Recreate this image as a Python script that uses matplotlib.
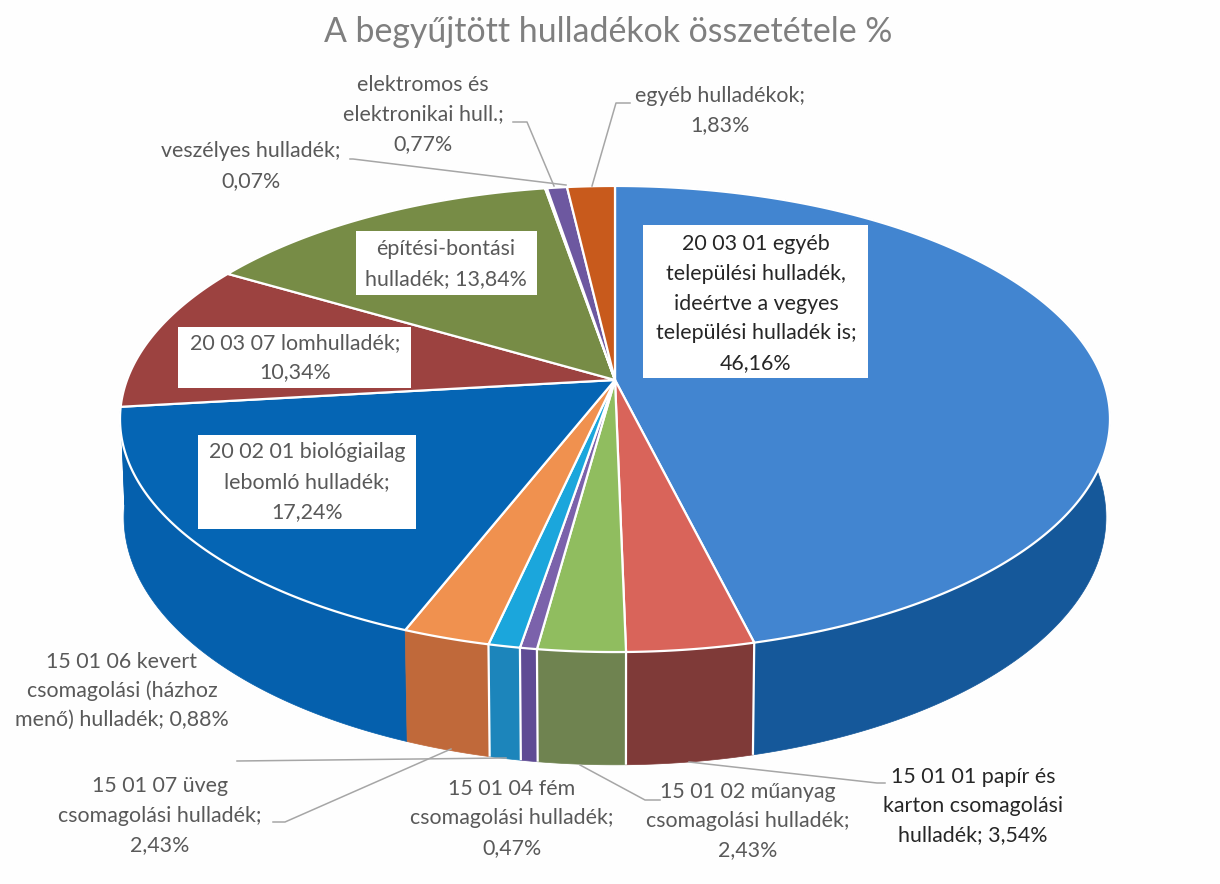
import numpy as np
import matplotlib
matplotlib.use("Agg")
import matplotlib.pyplot as plt

plt.rcParams['font.family'] = ['Lato', 'DejaVu Sans']

TITLE = "A begyűjtött hulladékok összetétele %"
values = [46.16, 3.54, 2.43, 0.47, 0.88, 2.43, 17.24, 10.34, 13.84, 0.07, 0.77, 1.83]
labels = [
    "20 03 01 egyéb\ntelepülési hulladék,\nideértve a vegyes\ntelepülési hulladék is;\n46,16%",
    "15 01 01 papír és\nkarton csomagolási\nhulladék; 3,54%",
    "15 01 02 műanyag\ncsomagolási hulladék;\n2,43%",
    "15 01 04 fém\ncsomagolási hulladék;\n0,47%",
    "15 01 06 kevert\ncsomagolási (házhoz\nmenő) hulladék; 0,88%",
    "15 01 07 üveg\ncsomagolási hulladék;\n2,43%",
    "20 02 01 biológiailag\nlebomló hulladék;\n17,24%",
    "20 03 07 lomhulladék;\n10,34%",
    "építési-bontási\nhulladék; 13,84%",
    "veszélyes hulladék;\n0,07%",
    "elektromos és\nelektronikai hull.;\n0,77%",
    "egyéb hulladékok;\n1,83%",
]
top_colors = ['#4285d0', '#d9645a', '#90bd5f', '#7b62ab', '#1ba6dc', '#f0914f',
              '#0565b4', '#9c4240', '#778c46', '#3a7fc0', '#6d58a0', '#c85a1c']
wall_colors = ['#15589a', '#7f3a38', '#6f8350', '#5f4b94', '#1c85bb', '#c0693a',
               '#0560ad', '#0560ad', '#5d6e38', '#2c6296', '#54437d', '#9c4616']

# label layout: text centre x, first-line centre y, line pitch, colour, optional white box
label_pos = [(756, 244, 29.8, '#262626', (643, 225, 868, 378)),
             (973, 777, 29.2, '#262626', None),
             (748, 792, 29.2, '#595959', None),
             (512, 789, 29.5, '#595959', None),
             (122, 662, 29.0, '#595959', None),
             (160, 786, 29.5, '#595959', None),
             (307, 452, 30.0, '#595959', (198, 435, 416, 529)),
             (295, 343, 29.5, '#595959', (178, 327, 411, 388)),
             (446, 249, 30.0, '#595959', (356, 231, 537, 295)),
             (251, 151, 30.0, '#595959', None),
             (423, 85, 29.5, '#595959', None),
             (720, 96, 29.5, '#595959', None)]
leaders = [[(689, 762), (877, 783), (885, 783)],
           [(580, 765), (645, 800), (660, 800)],
           [(237, 761), (506, 758)],
           [(451, 749), (285, 822), (273, 822)],
           [(566, 185), (353, 159), (350, 159)],
           [(554, 186), (527, 122), (513, 122)],
           [(592, 186), (616, 103), (630, 103)]]

# perspective projection of the unit disc
K, A, B, C = 488.0, -162.9, 380.0, 0.1674
CX = 615.0
DROP_Y, DROP_W = 100.0, 0.008


def project(t, r=1.0, depth=0.0):
    u, v = r * np.sin(t), r * np.cos(t)
    w = 1 + C * v + depth * DROP_W
    return CX + K * u / w, (A * v + B + depth * DROP_Y) / w


fig = plt.figure(figsize=(12.2, 8.84), dpi=100, facecolor='#fefefe')
ax = fig.add_axes([0, 0, 1, 1])
ax.set_xlim(0, 1220)
ax.set_ylim(884, 0)
ax.axis('off')

edges = np.cumsum([0] + values) / sum(values) * 2 * np.pi
spans = list(zip(edges[:-1], edges[1:]))

# side walls, back to front
order = sorted(range(len(values)), key=lambda i: np.cos((spans[i][0] + spans[i][1]) / 2), reverse=True)
for z, i in enumerate(order):
    a, b = spans[i]
    t = np.linspace(a, b, 200)
    xt, yt = project(t)
    xb, yb = project(t, depth=1.0)
    ax.fill(np.r_[xt, xb[::-1]], np.r_[yt, yb[::-1]], facecolor=wall_colors[i],
            edgecolor=wall_colors[i], lw=0.5, zorder=2 + z * 0.01)
# white joints between front walls
for e in edges[1:6]:
    xt, yt = project(e)
    xb, yb = project(e, depth=1.0)
    ax.plot([xt, xb], [yt, yb], color='white', lw=1.6, zorder=3, solid_capstyle='butt')

# top slices
ax0, ay0 = project(0.0, r=0.0)
for i, (a, b) in enumerate(spans):
    t = np.linspace(a, b, 300)
    x, y = project(t)
    ax.fill(np.r_[ax0, x], np.r_[ay0, y], facecolor=top_colors[i], edgecolor='white',
            lw=1.6, joinstyle='round', zorder=4)

# leaders
for pts in leaders:
    px, py = zip(*pts)
    ax.plot(px, py, color='#a6a6a6', lw=1.1, zorder=5)

# labels
for lab, (x, y, pitch, col, box) in zip(labels, label_pos):
    if box:
        x0, y0, x1, y1 = box
        ax.fill([x0, x1, x1, x0], [y0, y0, y1, y1], facecolor='white', edgecolor='none', zorder=6)
    for k, line in enumerate(lab.split("\n")):
        ax.text(x, y + k * pitch, line, ha='center', va='center', color=col, fontsize=15.4, zorder=7)

ax.text(608, 32, TITLE, ha='center', va='center', color='#7f7f7f', fontsize=24.4, zorder=7)

fig.savefig("out.png", dpi=100, facecolor=fig.get_facecolor())
